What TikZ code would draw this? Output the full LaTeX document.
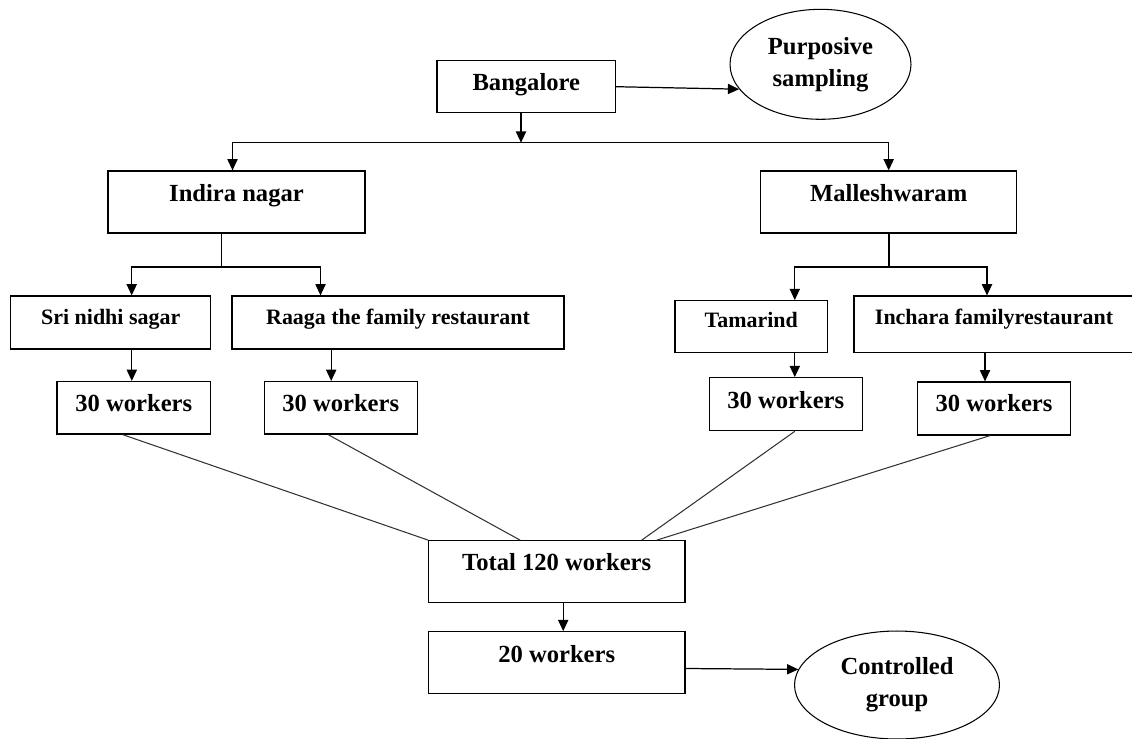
\documentclass[tikz,border=0pt]{standalone}
\usepackage{fontspec}
\setmainfont{Liberation Serif}
\usetikzlibrary{shapes.geometric,arrows.meta,positioning}
\tikzset{
  box/.style={rectangle,draw=black,line width=0.7pt,inner sep=0pt,
              text height=10pt,font=\fontsize{14}{17}\selectfont\bfseries},
  shop/.style={box,font=\fontsize{12.5}{15}\selectfont\bfseries},
  lift/.style={text depth=#1},
  oval/.style={ellipse,draw=black,line width=0.6pt,inner sep=0pt,align=center,
               font=\fontsize{14}{18.2}\selectfont\bfseries},
  flow/.style={-{Triangle[length=6.4pt,width=5.8pt]},line width=0.7pt},
  trunk/.style={line width=0.7pt},
  link/.style={line width=0.6pt,draw=black!80},
}

\begin{document}
\begin{tikzpicture}[x=0.02cm,y=-0.02cm]
\useasboundingbox (0,0) rectangle (1132,738);
% city and sampling
\node[box,lift=5.5pt,minimum width=3.57cm,minimum height=1.04cm] (bang) at (526.3,86.7) {Bangalore};
\node[oval,minimum width=3.62cm,minimum height=2.2cm] (purp) at (820.5,64.3) {Purposive\\sampling};
% areas
\node[box,lift=10.4pt,minimum width=5.14cm,minimum height=1.24cm] (indira) at (236.5,202) {Indira nagar};
\node[box,lift=10.4pt,minimum width=5.12cm,minimum height=1.24cm] (malle) at (888.7,202) {Malleshwaram};
% restaurants
\node[shop,lift=7.4pt,minimum width=4cm,minimum height=1.06cm]    (sri)   at (110.7,322.5) {Sri nidhi sagar};
\node[shop,lift=7.4pt,minimum width=6.64cm,minimum height=1.06cm] (raaga) at (398,322.5)   {Raaga the family restaurant};
\node[shop,lift=9.5pt,minimum width=3.05cm,minimum height=1.04cm] (tama)  at (751.3,326.7) {Tamarind};
\node[shop,lift=9.5pt,minimum width=5.6cm,minimum height=1.13cm]  (inch)  at (994,324.3)   {Inchara familyrestaurant};
% workers per restaurant
\node[box,lift=6.1pt,minimum width=3.07cm,minimum height=1.05cm] (wsri)   at (133.8,407.8) {30 workers};
\node[box,lift=6.1pt,minimum width=3.06cm,minimum height=1.05cm] (wraaga) at (340.7,407.8) {30 workers};
\node[box,lift=5.5pt,minimum width=3.06cm,minimum height=1.06cm] (wtama)  at (785.8,404.2) {30 workers};
\node[box,lift=6.1pt,minimum width=3.07cm,minimum height=1.06cm] (winch)  at (994,408.5)   {30 workers};
% totals
\node[box,lift=11.5pt,minimum width=5.13cm,minimum height=1.23cm] (total)  at (556.7,571.5) {Total 120 workers};
\node[box,lift=10.3pt,minimum width=5.13cm,minimum height=1.23cm] (twenty) at (556.7,662.5) {20 workers};
\node[oval,minimum width=4.1cm,minimum height=2.16cm] (ctrl) at (897,685) {Controlled\\group};

\draw[flow] (bang.east) -- (purp.197);
\coordinate (split) at (521,142.7);
\draw[flow] (bang.south -| split) -- (split);
\draw[flow] (split) -| ([xshift=-0.08cm]indira.north);
\draw[flow] (split) -| (malle.north);

\coordinate (isplit) at (221.7,267);
\draw[trunk] (indira.south -| isplit) -- (isplit);
\draw[flow] (isplit) -| ([xshift=0.42cm]sri.north);
\draw[flow] (isplit) -| ([xshift=-1.55cm]raaga.north);
\coordinate (msplit) at (889,267);
\draw[trunk] (malle.south -| msplit) -- (msplit);
\draw[flow] (msplit) -| ([xshift=0.87cm]tama.north);
\draw[flow] (msplit) -| ([xshift=-0.14cm]inch.north);

\foreach \src/\dst/\dx in {sri/wsri/-0.04cm,raaga/wraaga/-0.19cm,tama/wtama/0.18cm,inch/winch/-0.18cm}{
  \coordinate (in\dst) at ([xshift=\dx]\dst.north);
  \draw[flow] (\src.south -| in\dst) -- (in\dst);
}
\foreach \src/\sx/\tx in {wsri/-0.22cm/-2.57cm,wraaga/-0.25cm/-0.73cm,wtama/0.18cm/1.7cm,winch/-0.08cm/2cm}
  \draw[link] ([xshift=\sx]\src.south) -- ([xshift=\tx]total.north);

\coordinate (down) at ([xshift=0.13cm]total.south);
\draw[flow] (down) -- (down |- twenty.north);
\draw[flow] ([yshift=-0.12cm]twenty.east) -- (ctrl.171);
\end{tikzpicture}
\end{document}
